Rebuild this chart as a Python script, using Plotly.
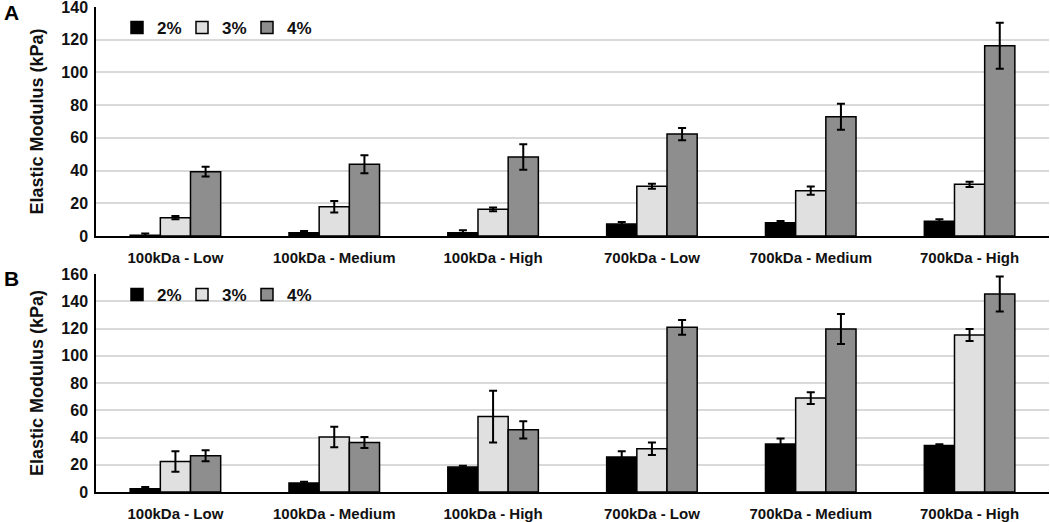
import plotly.graph_objects as go

categories = ["100kDa - Low", "100kDa - Medium", "100kDa - High",
              "700kDa - Low", "700kDa - Medium", "700kDa - High"]
series_names = ["2%", "3%", "4%"]

# Panel A values and errors
a_2 = [0.5, 2.0, 2.0, 7.3, 8.1, 9.0]
a_3 = [11.2, 17.9, 16.3, 30.4, 27.7, 31.6]
a_4 = [39.3, 43.8, 48.3, 62.3, 72.9, 116.3]
a_2_err = [1.0, 1.0, 1.5, 1.3, 1.0, 1.2]
a_3_err = [1.0, 3.5, 1.2, 1.5, 2.5, 1.6]
a_4_err = [3.0, 5.5, 7.8, 3.8, 7.9, 14.0]

# Panel B values and errors
b_2 = [2.4, 6.6, 18.3, 25.6, 35.2, 34.2]
b_3 = [22.4, 40.3, 55.4, 31.7, 68.9, 115.3]
b_4 = [26.6, 36.3, 45.6, 120.9, 119.7, 145.3]
b_2_err = [1.2, 1.0, 1.0, 4.4, 4.0, 0.8]
b_3_err = [7.6, 7.5, 19.0, 4.6, 4.4, 4.4]
b_4_err = [4.0, 4.0, 6.4, 5.4, 11.0, 12.8]

colors = ["#000000", "#e0e0e0", "#8e8e8e"]
FONT = "Liberation Sans, Arial, sans-serif"

fig = go.Figure()

panels = [
    ("x", "y", "legend", [a_2, a_3, a_4], [a_2_err, a_3_err, a_4_err]),
    ("x2", "y2", "legend2", [b_2, b_3, b_4], [b_2_err, b_3_err, b_4_err]),
]
for xa, ya, lg, vals, errs in panels:
    for name, v, e, c in zip(series_names, vals, errs, colors):
        fig.add_trace(go.Bar(
            x=categories, y=v, name=name, xaxis=xa, yaxis=ya, legend=lg,
            marker=dict(color=c, line=dict(color="#000000", width=1.5)),
            error_y=dict(type="data", array=e, visible=True,
                         color="#000000", thickness=2, width=4),
        ))

T, B, L, R = 7, 30, 96, 1
H = 522.0 - T - B
W = 1050.0 - L - R
def py(pix):
    return (522 - B - pix) / H
def px(pix):
    return (pix - L) / W

axis_common = dict(showline=True, linecolor="#000000", linewidth=1.5, automargin=False,
                   ticks="", ticklabelstandoff=7, ticklabeloverflow="allow",
                   tickfont=dict(family=FONT, size=15, color="#111111", weight="bold"))
yaxis_common = dict(showline=True, linecolor="#000000", linewidth=1.5, automargin=False,
                    showgrid=True, gridcolor="#d9d9d9", gridwidth=1.5,
                    zeroline=False, dtick=20, ticks="", ticklabelstandoff=3,
                    ticklabeloverflow="allow",
                    tickfont=dict(family=FONT, size=16, color="#111111", weight="bold"),
                    title=dict(text="Elastic Modulus (kPa)", standoff=13,
                               font=dict(family=FONT, size=18, color="#111111", weight="bold")))

legend_common = dict(orientation="h", xanchor="left", yanchor="middle",
                     font=dict(family=FONT, size=17, color="#111111", weight="bold"),
                     bgcolor="rgba(0,0,0,0)", itemwidth=30, entrywidth=20,
                     traceorder="normal")

fig.update_layout(
    width=1050, height=522,
    paper_bgcolor="white", plot_bgcolor="white",
    margin=dict(l=L, r=R, t=T, b=B),
    barmode="group", bargap=0.43, bargroupgap=0,
    font=dict(family=FONT, color="#111111"),
    xaxis=dict(domain=[0, 1], anchor="y", **axis_common),
    yaxis=dict(domain=[py(236), 1.0], anchor="x", range=[0, 140], **yaxis_common),
    xaxis2=dict(domain=[0, 1], anchor="y2", **axis_common),
    yaxis2=dict(domain=[0, py(274)], anchor="x2", range=[0, 160], **yaxis_common),
    legend=dict(x=px(117), y=py(28), **legend_common),
    legend2=dict(x=px(117), y=py(295), **legend_common),
)

fig.add_annotation(text="<b>A</b>", x=px(11), y=py(13), xref="paper", yref="paper",
                   showarrow=False, xanchor="center", yanchor="middle",
                   font=dict(family=FONT, size=21, color="#000000"))
fig.add_annotation(text="<b>B</b>", x=px(11), y=py(278), xref="paper", yref="paper",
                   showarrow=False, xanchor="center", yanchor="middle",
                   font=dict(family=FONT, size=21, color="#000000"))

fig.write_html("out.html", config={"displayModeBar": False},
               post_script="document.body.style.margin='0';")
